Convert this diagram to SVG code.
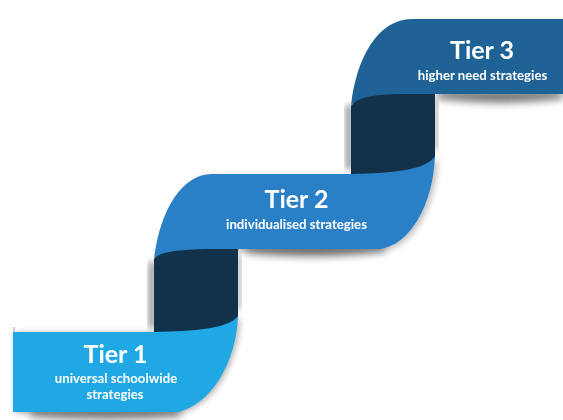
<svg xmlns="http://www.w3.org/2000/svg" width="563" height="420" viewBox="0 0 563 420">
<style>
.t{font-family:"Lato","Carlito","Open Sans",sans-serif;font-weight:700;fill:#fff;text-anchor:middle}
.h{font-size:25px}
.s{font-size:13.2px;letter-spacing:0}
.sh{fill:#000}
</style>
<defs>
<filter id="b6" x="-30%" y="-80%" width="160%" height="260%"><feGaussianBlur stdDeviation="4.5"/></filter>
<filter id="b3" x="-20%" y="-20%" width="140%" height="140%"><feGaussianBlur stdDeviation="3"/></filter>
<filter id="bt" x="-10%" y="-20%" width="120%" height="140%"><feGaussianBlur stdDeviation="0.25"/></filter>
<path id="r1" d="M13,332H154C195,331 228,329 238,316C236,362 212,404 178,412H13Z"/>
<path id="r2" d="M154,259C160,210 182,174 212,174H351C395,173 426,170 435,156C433,205 410,245 380,249H205C180,250 160,251 154,259Z"/>
<path id="r3" d="M351,106C356,58 378,19 412,19H563V94H400C375,94 355,98 351,106Z"/>
</defs>
<rect width="563" height="420" fill="#fff"/>
<g id="shadows">
<use href="#r1" class="sh" opacity=".32" filter="url(#b3)" transform="translate(2,1)"/>
<use href="#r2" class="sh" opacity=".25" filter="url(#b3)" transform="translate(3,2)"/>
<path class="sh" opacity=".6" filter="url(#b6)" d="M30,410H180V416Q105,421 30,416Z"/>
<path class="sh" opacity=".6" filter="url(#b6)" d="M245,246H385V251Q315,260 245,252Z"/>
<path class="sh" opacity=".6" filter="url(#b6)" d="M437,91H563V98Q500,106 437,98Z"/>
<rect class="sh" opacity=".45" filter="url(#b3)" x="149" y="262" width="6" height="66"/>
<rect class="sh" opacity=".45" filter="url(#b3)" x="346" y="105" width="6" height="64"/>
<rect class="sh" opacity=".3" filter="url(#b3)" x="236" y="255" width="5" height="55"/>
<rect class="sh" opacity=".3" filter="url(#b3)" x="433" y="100" width="5" height="50"/>
<rect x="13" y="327" width="2" height="6" fill="#9a9a9a" opacity=".5"/>
</g>
<g id="connectors">
<path id="fold-1" fill="#12324b" d="M154,336V259L170,240H238V318L230,336Z"/>
<path id="fold-2" fill="#12324b" d="M351,176V106L367,86H435V158L427,176Z"/>
</g>
<g id="tier-1">
<use href="#r1" fill="#1fa8e3"/>
<text class="t h" x="115.5" y="363" filter="url(#bt)">Tier 1</text>
<text class="t s" x="116" y="383" filter="url(#bt)">universal schoolwide</text>
<text class="t s" x="115" y="399" filter="url(#bt)">strategies</text>
</g>
<g id="tier-2">
<use href="#r2" fill="#2a80c6"/>
<text class="t h" x="296.5" y="208" filter="url(#bt)">Tier 2</text>
<text class="t s" x="296.5" y="229" filter="url(#bt)">individualised strategies</text>
</g>
<g id="tier-3">
<use href="#r3" fill="#1f6296"/>
<text class="t h" x="482" y="59" filter="url(#bt)">Tier 3</text>
<text class="t s" x="482.5" y="80" filter="url(#bt)">higher need strategies</text>
</g>
</svg>
